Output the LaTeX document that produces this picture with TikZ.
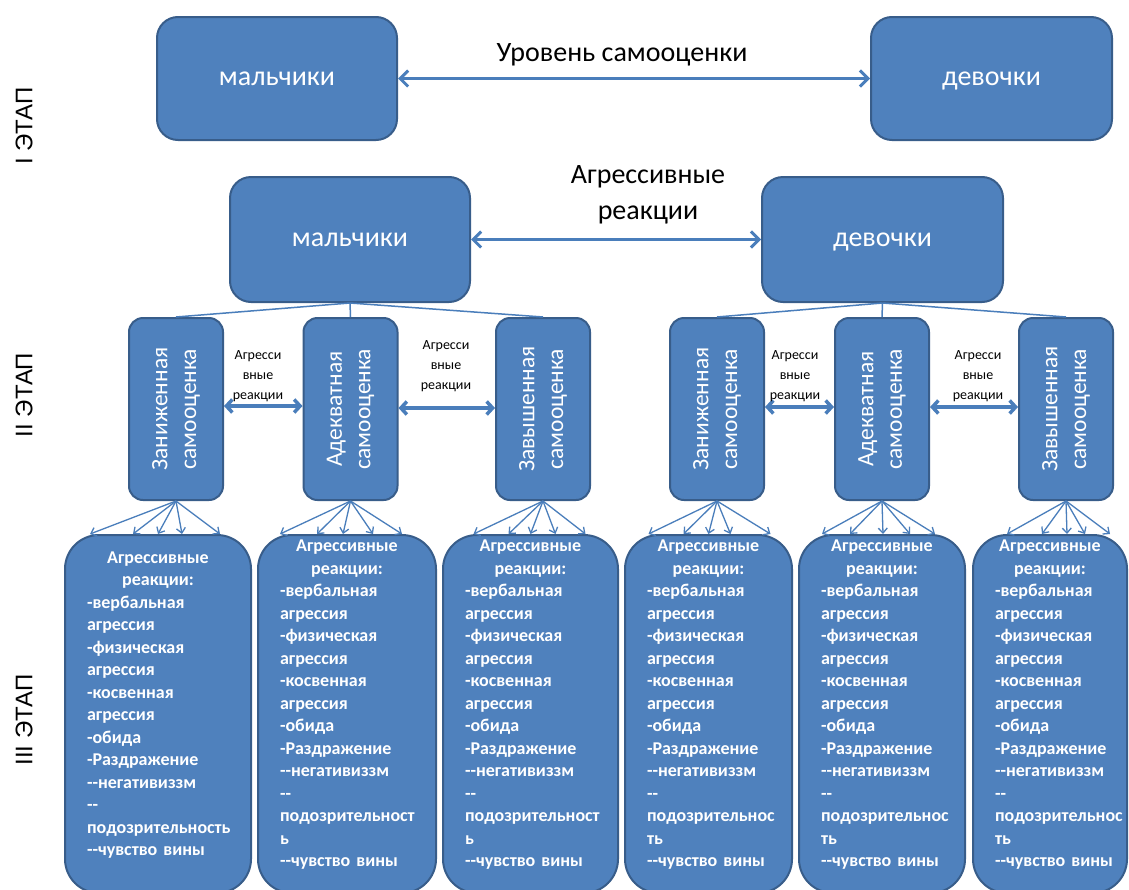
\documentclass[tikz,border=0pt]{standalone}
\usepackage{fontspec}
\setmainfont{Carlito}
\newfontfamily\stagefont{Liberation Sans}
\usetikzlibrary{arrows.meta}
\definecolor{boxfill}{HTML}{4F81BD}
\definecolor{boxdraw}{HTML}{385D8A}
\definecolor{arr}{HTML}{4A7EBB}
\newcommand\ddsh{-\kern0pt-}
\exhyphenpenalty=10000
\hyphenpenalty=10000
\tikzset{
  bigbox/.style={draw=boxdraw, line width=2pt, fill=boxfill, rounded corners=21pt, inner sep=0pt,
    text=white, text height=20pt, text depth=6pt, font=\fontsize{28}{34}\selectfont},
  smallbox/.style={draw=boxdraw, line width=2pt, fill=boxfill, rounded corners=14pt, inner sep=0pt,
    minimum width=94pt, minimum height=182pt},
  botbox/.style={draw=boxdraw, line width=2pt, fill=boxfill, rounded corners=34pt, inner sep=0pt,
    minimum height=358pt},
  vtext/.style={rotate=90, text=white, align=center, inner sep=0pt, font=\fontsize{23.5}{28.7}\selectfont},
  btext/.style={text=white, align=left, inner sep=0pt, font=\bfseries\fontsize{18}{22.5}\selectfont},
  biglabel/.style={align=center, inner sep=0pt, font=\fontsize{28}{36}\selectfont},
  smalllabel/.style={align=center, inner sep=0pt, font=\fontsize{14}{20}\selectfont},
  stage/.style={rotate=90, inner sep=0pt, font=\stagefont\fontsize{24}{28}\selectfont},
  mainarrow/.style={draw=arr, line width=3pt, {Straight Barb[length=8pt,width=16pt]}-{Straight Barb[length=8pt,width=16pt]}},
  midarrow/.style={draw=arr, line width=3.5pt, {Straight Barb[length=6pt,width=13pt]}-{Straight Barb[length=6pt,width=13pt]}},
  fan/.style={draw=arr, line width=1.3pt, -{Straight Barb[length=5pt,width=9pt]}},
  link/.style={draw=arr, line width=1.5pt},
}
\begin{document}
\begin{tikzpicture}[x=1pt,y=-1pt]
\useasboundingbox[fill=white] (0,0) rectangle (1129,889);

% stage labels
\node[stage] (st1) at (24,126) {I ЭТАП};
\node[stage] (st2) at (24,395) {II ЭТАП};
\node[stage] (st3) at (24,720) {III ЭТАП};

% stage I
\node[bigbox, minimum width=240pt, minimum height=123pt] (tb) at (277,78.5) {мальчики};
\node[bigbox, minimum width=241pt, minimum height=123pt] (tg) at (991.5,78.5) {девочки};
\draw[mainarrow] (tb.east) -- (tg.west);
\node[biglabel] (lab1) at (622,55) {Уровень самооценки};

% stage II
\node[bigbox, minimum width=240pt, minimum height=125pt] (mb) at (350,239.5) {мальчики};
\node[bigbox, minimum width=241pt, minimum height=125pt] (mg) at (882.5,239.5) {девочки};
\draw[mainarrow] (mb.east) -- (mg.west);
\node[biglabel] (lab2) at (648,195) {Агрессивные\\реакции};

\node[smallbox] (s1) at (176,409) {};
\node[smallbox] (s2) at (350.5,409) {};
\node[smallbox] (s3) at (543,409) {};
\node[smallbox] (s4) at (717,409) {};
\node[smallbox] (s5) at (882,409) {};
\node[smallbox] (s6) at (1066,409) {};
\node[vtext] (v1) at (s1) {Заниженная\\самооценка};
\node[vtext] (v2) at (s2) {Адекватная\\самооценка};
\node[vtext] (v3) at (s3) {Завышенная\\самооценка};
\node[vtext] (v4) at (s4) {Заниженная\\самооценка};
\node[vtext] (v5) at (s5) {Адекватная\\самооценка};
\node[vtext] (v6) at (s6) {Завышенная\\самооценка};

\draw[link] (mb.south) -- (s1.north);
\draw[link] (mb.south) -- (s2.north);
\draw[link] (mb.south) -- (s3.north);
\draw[link] (mg.south) -- (s4.north);
\draw[link] (mg.south) -- (s5.north);
\draw[link] (mg.south) -- (s6.north);

\draw[midarrow] ([yshift=3pt]s1.east) -- ([yshift=3pt]s2.west);
\draw[midarrow] ([yshift=1pt]s2.east) -- ([yshift=1pt]s3.west);
\draw[midarrow] ([yshift=2pt]s4.east) -- ([yshift=2pt]s5.west);
\draw[midarrow] ([yshift=2pt]s5.east) -- ([yshift=2pt]s6.west);
\node[smalllabel] (a1) at (258,376) {Агресси\\вные\\реакции};
\node[smalllabel] (a2) at (446,366) {Агресси\\вные\\реакции};
\node[smalllabel] (a3) at (795,376) {Агресси\\вные\\реакции};
\node[smalllabel] (a4) at (978,376) {Агресси\\вные\\реакции};

% stage III
\node[botbox, minimum width=186pt] (b1) at (158,714) {};
\node[botbox, minimum width=178pt] (b2) at (347,714) {};
\node[botbox, minimum width=175pt] (b3) at (530.5,714) {};
\node[botbox, minimum width=167pt] (b4) at (708.5,714) {};
\node[botbox, minimum width=166pt] (b5) at (882,714) {};
\node[botbox, minimum width=154pt] (b6) at (1050,714) {};

\foreach \s/\b/\o in {s1/b1/-68, s1/b1/-25, s1/b1/0, s1/b1/24, s1/b1/62,
                      s2/b2/-67, s2/b2/-30, s2/b2/-4, s2/b2/26, s2/b2/55,
                      s3/b3/-57, s3/b3/-22, s3/b3/0, s3/b3/25, s3/b3/55,
                      s4/b4/-60, s4/b4/-25, s4/b4/0, s4/b4/22, s4/b4/62,
                      s5/b5/-60, s5/b5/-32, s5/b5/1, s5/b5/28, s5/b5/53,
                      s6/b6/-43, s6/b6/-8, s6/b6/17, s6/b6/35, s6/b6/60}
  \draw[fan] (\s.south) -- ([xshift=\o pt]\b.north);

\node[btext, text width=142pt] (t1) at (158,705) {\makebox[\linewidth]{Агрессивные}\\\makebox[\linewidth]{реакции:}\\-вербальная\\агрессия\\-физическая\\агрессия\\-косвенная\\агрессия\\-обида\\-Раздражение\\\ddsh негативиззм\\\ddsh\\подозрительность\\\ddsh чувство~вины};
\node[btext, text width=134pt] (t2) at (347,705) {\makebox[\linewidth]{Агрессивные}\\\makebox[\linewidth]{реакции:}\\-вербальная\\агрессия\\-физическая\\агрессия\\-косвенная\\агрессия\\-обида\\-Раздражение\\\ddsh негативиззм\\\ddsh\\подозрительност\\ь\\\ddsh чувство~вины};
\node[btext, text width=131pt] (t3) at (530.5,705) {\makebox[\linewidth]{Агрессивные}\\\makebox[\linewidth]{реакции:}\\-вербальная\\агрессия\\-физическая\\агрессия\\-косвенная\\агрессия\\-обида\\-Раздражение\\\ddsh негативиззм\\\ddsh\\подозрительност\\ь\\\ddsh чувство~вины};
\node[btext, text width=123pt] (t4) at (708.5,705) {\makebox[\linewidth]{Агрессивные}\\\makebox[\linewidth]{реакции:}\\-вербальная\\агрессия\\-физическая\\агрессия\\-косвенная\\агрессия\\-обида\\-Раздражение\\\ddsh негативиззм\\\ddsh\\подозрительнос\\ть\\\ddsh чувство~вины};
\node[btext, text width=122pt] (t5) at (882,705) {\makebox[\linewidth]{Агрессивные}\\\makebox[\linewidth]{реакции:}\\-вербальная\\агрессия\\-физическая\\агрессия\\-косвенная\\агрессия\\-обида\\-Раздражение\\\ddsh негативиззм\\\ddsh\\подозрительнос\\ть\\\ddsh чувство~вины};
\node[btext, text width=110pt] (t6) at (1050,705) {\makebox[\linewidth]{Агрессивные}\\\makebox[\linewidth]{реакции:}\\-вербальная\\агрессия\\-физическая\\агрессия\\-косвенная\\агрессия\\-обида\\-Раздражение\\\ddsh негативиззм\\\ddsh\\подозрительнос\\ть\\\ddsh чувство~вины};
\end{tikzpicture}
\end{document}
